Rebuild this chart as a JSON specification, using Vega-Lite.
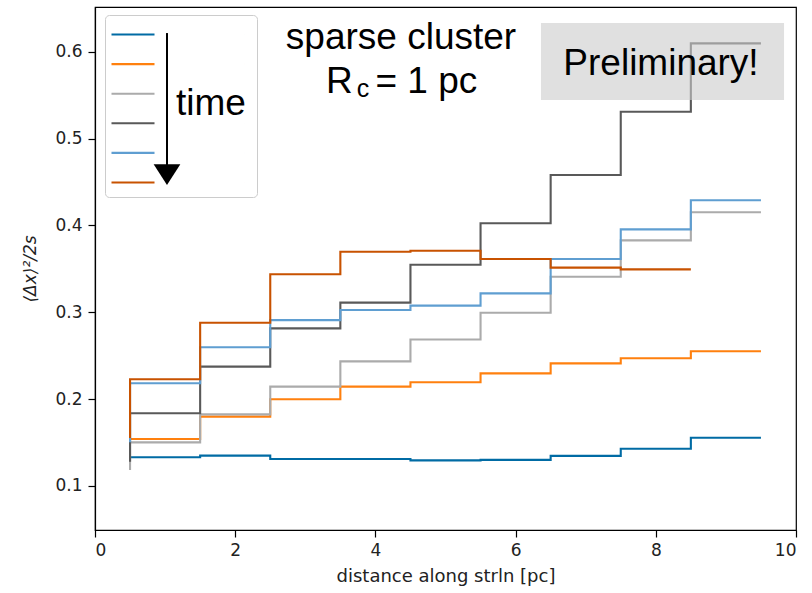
{
  "$schema": "https://vega.github.io/schema/vega-lite/v6.json",
  "width": 701,
  "height": 523,
  "autosize": {"type": "none"},
  "padding": {"left": 95, "top": 7, "right": 16, "bottom": 63},
  "background": "white",
  "config": {
    "view": {"stroke": "black", "strokeWidth": 1.2},
    "axis": {
      "domainColor": "black",
      "domainWidth": 1.2,
      "tickColor": "black",
      "tickWidth": 1.2,
      "labelColor": "#222222",
      "titleColor": "#222222",
      "labelFont": "DejaVu Sans",
      "titleFont": "DejaVu Sans",
      "labelFontSize": 17,
      "titleFontSize": 18,
      "titleFontWeight": "normal",
      "grid": false,
      "tickSize": 7
    },
    "axisX": {"labelPadding": 5},
    "axisY": {"labelPadding": 6}
  },
  "data": {
    "values": [
      {"s": "t1", "x": 0.5, "y": 0.1331}, {"s": "t1", "x": 1.5, "y": 0.1331}, {"s": "t1", "x": 2.5, "y": 0.1349}, {"s": "t1", "x": 3.5, "y": 0.1311}, {"s": "t1", "x": 4.5, "y": 0.1311}, {"s": "t1", "x": 5.5, "y": 0.1295}, {"s": "t1", "x": 6.5, "y": 0.1300}, {"s": "t1", "x": 7.5, "y": 0.1346}, {"s": "t1", "x": 8.5, "y": 0.1429}, {"s": "t1", "x": 9.5, "y": 0.1556},
      {"s": "t2", "x": 0.5, "y": 0.1541}, {"s": "t2", "x": 1.5, "y": 0.1541}, {"s": "t2", "x": 2.5, "y": 0.1798}, {"s": "t2", "x": 3.5, "y": 0.1998}, {"s": "t2", "x": 4.5, "y": 0.2144}, {"s": "t2", "x": 5.5, "y": 0.2194}, {"s": "t2", "x": 6.5, "y": 0.2297}, {"s": "t2", "x": 7.5, "y": 0.2412}, {"s": "t2", "x": 8.5, "y": 0.2470}, {"s": "t2", "x": 9.5, "y": 0.2551},
      {"s": "t3", "x": 0.5, "y": 0.1185}, {"s": "t3", "x": 1.5, "y": 0.1502}, {"s": "t3", "x": 2.5, "y": 0.1824}, {"s": "t3", "x": 3.5, "y": 0.2144}, {"s": "t3", "x": 4.5, "y": 0.2435}, {"s": "t3", "x": 5.5, "y": 0.2687}, {"s": "t3", "x": 6.5, "y": 0.2995}, {"s": "t3", "x": 7.5, "y": 0.3409}, {"s": "t3", "x": 8.5, "y": 0.3828}, {"s": "t3", "x": 9.5, "y": 0.4151},
      {"s": "t4", "x": 0.5, "y": 0.1280}, {"s": "t4", "x": 1.5, "y": 0.1837}, {"s": "t4", "x": 2.5, "y": 0.2374}, {"s": "t4", "x": 3.5, "y": 0.2815}, {"s": "t4", "x": 4.5, "y": 0.3111}, {"s": "t4", "x": 5.5, "y": 0.3548}, {"s": "t4", "x": 6.5, "y": 0.4025}, {"s": "t4", "x": 7.5, "y": 0.4581}, {"s": "t4", "x": 8.5, "y": 0.5309}, {"s": "t4", "x": 9.5, "y": 0.6096},
      {"s": "t5", "x": 0.5, "y": 0.1502}, {"s": "t5", "x": 1.5, "y": 0.2182}, {"s": "t5", "x": 2.5, "y": 0.2598}, {"s": "t5", "x": 3.5, "y": 0.2910}, {"s": "t5", "x": 4.5, "y": 0.3026}, {"s": "t5", "x": 5.5, "y": 0.3076}, {"s": "t5", "x": 6.5, "y": 0.3218}, {"s": "t5", "x": 7.5, "y": 0.3614}, {"s": "t5", "x": 8.5, "y": 0.3955}, {"s": "t5", "x": 9.5, "y": 0.4290},
      {"s": "t6", "x": 0.5, "y": 0.1552}, {"s": "t6", "x": 1.5, "y": 0.2228}, {"s": "t6", "x": 2.5, "y": 0.2880}, {"s": "t6", "x": 3.5, "y": 0.3437}, {"s": "t6", "x": 4.5, "y": 0.3697}, {"s": "t6", "x": 5.5, "y": 0.3709}, {"s": "t6", "x": 6.5, "y": 0.3614}, {"s": "t6", "x": 7.5, "y": 0.3514}, {"s": "t6", "x": 8.5, "y": 0.3494}
    ]
  },
  "layer": [
    {
      "mark": {"type": "line", "interpolate": "step-before", "strokeWidth": 2.1},
      "encoding": {
        "x": {
          "field": "x", "type": "quantitative",
          "scale": {"domain": [0, 10], "nice": false, "zero": false, "padding": 0},
          "axis": {"values": [0, 2, 4, 6, 8, 10], "format": "d", "title": "distance along strln [pc]", "titlePadding": 9}
        },
        "y": {
          "field": "y", "type": "quantitative",
          "scale": {"domain": [0.0493, 0.6515], "nice": false, "zero": false, "padding": 0},
          "axis": {"values": [0.1, 0.2, 0.3, 0.4, 0.5, 0.6], "format": ".1f", "title": "⟨Δx⟩²/2s", "titleFontStyle": "italic", "titleFontSize": 17, "titlePadding": 15}
        },
        "color": {
          "field": "s", "type": "nominal",
          "scale": {"domain": ["t1", "t2", "t3", "t4", "t5", "t6"], "range": ["#006BA4", "#FF800E", "#ABABAB", "#595959", "#5F9ED1", "#C85200"]},
          "legend": {
            "orient": "none", "legendX": 10, "legendY": 8, "title": null,
            "symbolType": "M-1.3,0H3.0M12,0h0.001", "symbolSize": 400, "symbolStrokeWidth": 2.1,
            "labelExpr": "''", "labelFont": "Liberation Sans", "labelFontSize": 12, "labelOffset": 0,
            "padding": 8, "rowPadding": 11.6, "strokeColor": "#cccccc", "cornerRadius": 4
          }
        }
      }
    },
    {
      "data": {"values": [{}]},
      "mark": {"type": "rect", "color": "#cccccc", "opacity": 0.6},
      "encoding": {"x": {"datum": 6.362}, "x2": {"datum": 9.829}, "y": {"datum": 0.633}, "y2": {"datum": 0.5444}}
    },
    {
      "data": {"values": [{}]},
      "mark": {"type": "text", "font": "Liberation Sans", "fontSize": 37, "align": "center", "baseline": "alphabetic", "color": "black", "text": "Preliminary!"},
      "encoding": {"x": {"datum": 8.074}, "y": {"datum": 0.5732}}
    },
    {
      "data": {"values": [{}]},
      "mark": {"type": "text", "font": "Liberation Sans", "fontSize": 37, "align": "center", "baseline": "alphabetic", "color": "black", "text": "sparse cluster"},
      "encoding": {"x": {"datum": 4.365}, "y": {"datum": 0.6028}}
    },
    {
      "data": {"values": [{}]},
      "mark": {"type": "text", "font": "Liberation Sans", "fontSize": 37, "align": "left", "baseline": "alphabetic", "color": "black", "text": "R"},
      "encoding": {"x": {"datum": 3.296}, "y": {"datum": 0.5521}}
    },
    {
      "data": {"values": [{}]},
      "mark": {"type": "text", "font": "Liberation Sans", "fontSize": 25, "align": "left", "baseline": "alphabetic", "color": "black", "text": "c"},
      "encoding": {"x": {"datum": 3.733}, "y": {"datum": 0.5475}}
    },
    {
      "data": {"values": [{}]},
      "mark": {"type": "text", "font": "Liberation Sans", "fontSize": 37, "align": "left", "baseline": "alphabetic", "color": "black", "text": "= 1 pc"},
      "encoding": {"x": {"datum": 4.0}, "y": {"datum": 0.5521}}
    },
    {
      "data": {"values": [{}]},
      "mark": {"type": "text", "font": "Liberation Sans", "fontSize": 37, "align": "left", "baseline": "alphabetic", "color": "black", "text": "time"},
      "encoding": {"x": {"datum": 1.155}, "y": {"datum": 0.5271}}
    },
    {
      "data": {"values": [{}]},
      "mark": {"type": "rule", "strokeWidth": 2, "color": "black"},
      "encoding": {"x": {"datum": 1.027}, "y": {"datum": 0.6215}, "y2": {"datum": 0.4696}}
    },
    {
      "data": {"values": [{}]},
      "mark": {"type": "point", "shape": "M-1,-0.78L1,-0.78L0,0.78Z", "filled": true, "color": "black", "opacity": 1, "size": 713},
      "encoding": {"x": {"datum": 1.027}, "y": {"datum": 0.4584}}
    }
  ]
}
